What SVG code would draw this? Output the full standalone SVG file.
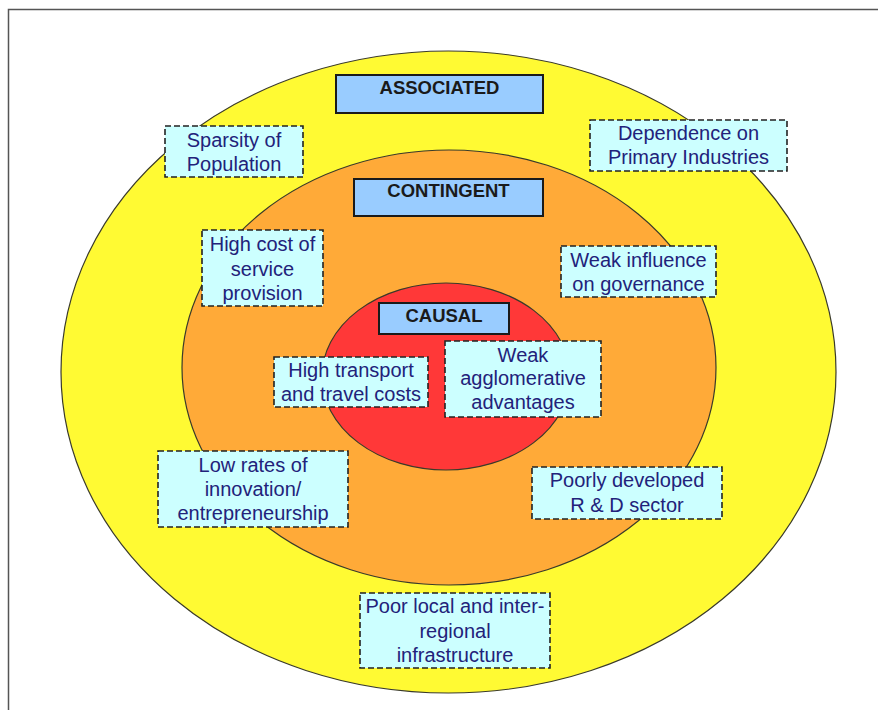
<svg xmlns="http://www.w3.org/2000/svg" width="878" height="710" viewBox="0 0 878 710">
<style>
.ring{stroke:#3a3a2a;stroke-width:1.2}
.hdr rect{fill:#99ccff;stroke:#1a1a1a;stroke-width:2}
.hdr text{font-family:"Liberation Sans",Arial,sans-serif;font-weight:bold;font-size:18.5px;fill:#1a1a1a;text-anchor:middle}
.lbl rect{fill:#ccffff;stroke:#222;stroke-width:1.6;stroke-dasharray:6 3}
.lbl text{font-family:"Liberation Sans",Arial,sans-serif;font-size:20px;fill:#22227a;text-anchor:middle}
</style>
<rect x="0" y="0" width="878" height="710" fill="#ffffff"/>
<path d="M8.5,711 V9.5 H879" fill="none" stroke="#555" stroke-width="1.5"/>
<g id="rings">
<ellipse id="outer" class="ring" cx="448.5" cy="372" rx="387.5" ry="321" fill="#fffa33"/>
<ellipse id="middle" class="ring" cx="449" cy="367.5" rx="267" ry="217.5" fill="#ffaa38"/>
<ellipse id="inner" class="ring" cx="446" cy="376.5" rx="124" ry="93.5" fill="#ff3838"/>
</g>
<g id="associated" class="hdr"><rect x="336" y="75" width="207" height="38"/><text x="439.5" y="94">ASSOCIATED</text></g>
<g id="contingent" class="hdr"><rect x="354" y="179" width="189" height="37"/><text x="448.5" y="197">CONTINGENT</text></g>
<g id="causal" class="hdr"><rect x="379" y="303" width="130" height="31"/><text x="444" y="322">CAUSAL</text></g>
<g id="sparsity" class="lbl"><rect x="165" y="126" width="138" height="51"/><text x="234" y="147">Sparsity of</text><text x="234" y="171">Population</text></g>
<g id="dependence" class="lbl"><rect x="590" y="120" width="197" height="51"/><text x="688.5" y="140">Dependence on</text><text x="688.5" y="164">Primary Industries</text></g>
<g id="weak-influence" class="lbl"><rect x="561" y="246" width="155" height="51"/><text x="638.5" y="267">Weak influence</text><text x="638.5" y="291">on governance</text></g>
<g id="high-cost" class="lbl"><rect x="202" y="230" width="121" height="76"/><text x="262.5" y="251">High cost of</text><text x="262.5" y="276">service</text><text x="262.5" y="300">provision</text></g>
<g id="high-transport" class="lbl"><rect x="274" y="357" width="154" height="50"/><text x="351" y="377">High transport</text><text x="351" y="401">and travel costs</text></g>
<g id="weak-agglomerative" class="lbl"><rect x="445" y="341" width="156" height="76"/><text x="523" y="362">Weak</text><text x="523" y="385">agglomerative</text><text x="523" y="409">advantages</text></g>
<g id="low-rates" class="lbl"><rect x="158" y="451" width="190" height="76"/><text x="253" y="472">Low rates of</text><text x="253" y="496">innovation/</text><text x="253" y="520">entrepreneurship</text></g>
<g id="poorly-developed" class="lbl"><rect x="532" y="467" width="190" height="52"/><text x="627" y="487">Poorly developed</text><text x="627" y="512">R &amp; D sector</text></g>
<g id="poor-local" class="lbl"><rect x="360" y="593" width="190" height="75"/><text x="455" y="613">Poor local and inter-</text><text x="455" y="638">regional</text><text x="455" y="662">infrastructure</text></g>
</svg>
